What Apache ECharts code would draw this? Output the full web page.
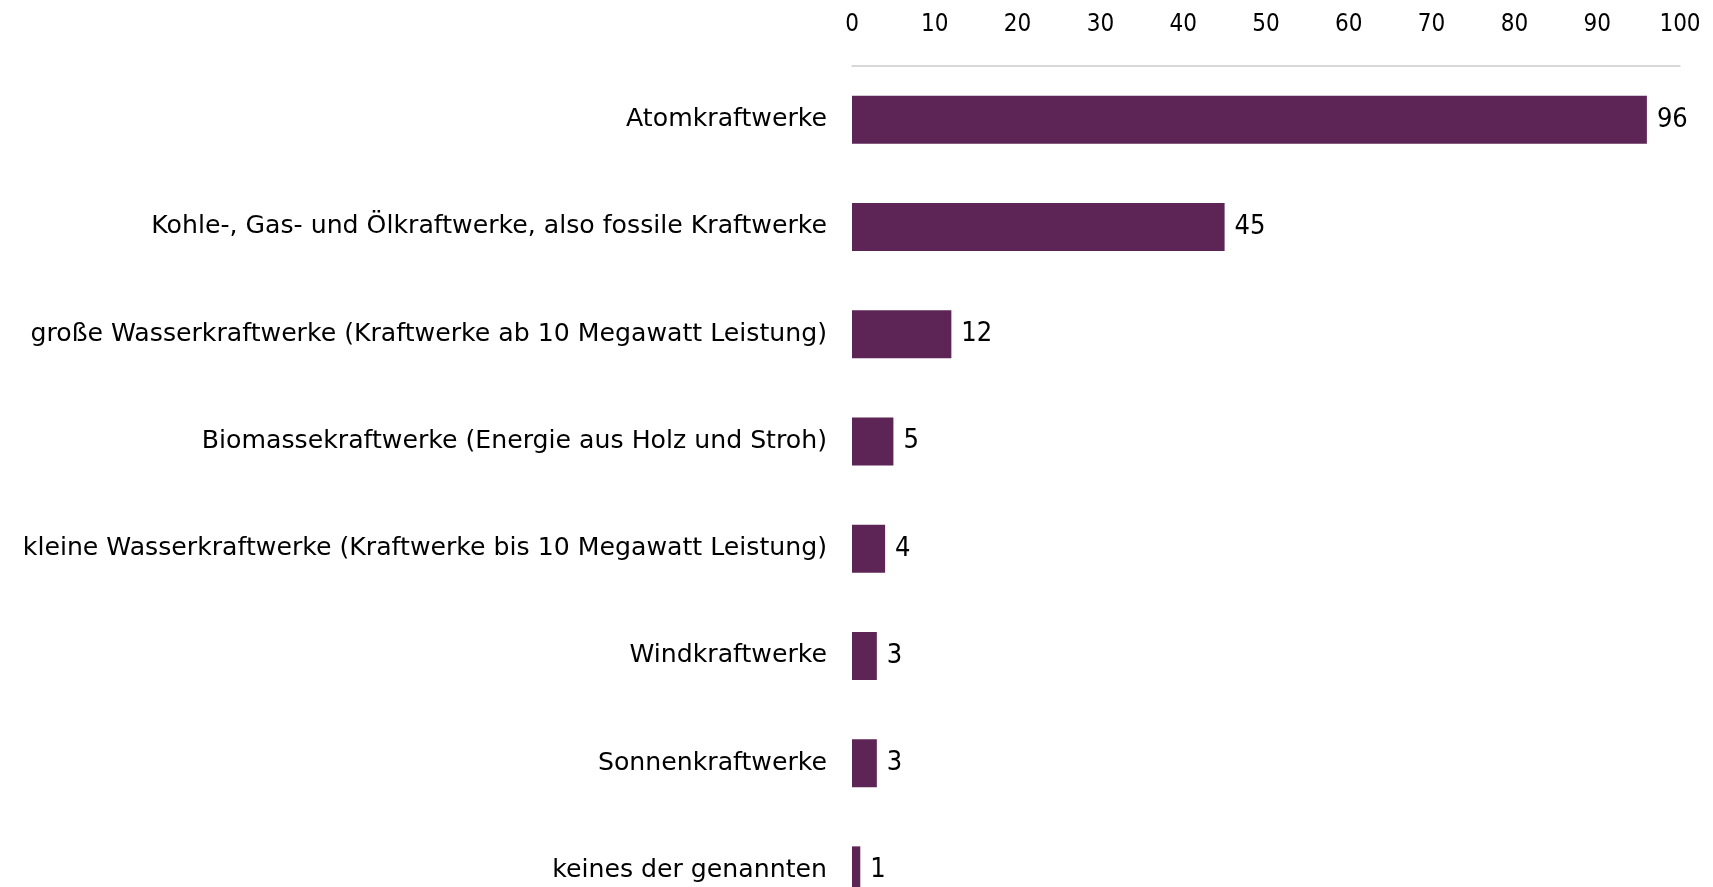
<!DOCTYPE html>
<html><head><meta charset="utf-8">
<script src="https://cdn.jsdelivr.net/npm/echarts@6/dist/echarts.min.js"></script>
<style>html,body{margin:0;padding:0;background:#fff}#c{width:1713px;height:887px}</style>
</head><body><div id="c"></div>
<script>
const categories = [
  "Atomkraftwerke",
  "Kohle-, Gas- und Ölkraftwerke, also fossile Kraftwerke",
  "große Wasserkraftwerke (Kraftwerke ab 10 Megawatt Leistung)",
  "Biomassekraftwerke (Energie aus Holz und Stroh)",
  "kleine Wasserkraftwerke (Kraftwerke bis 10 Megawatt Leistung)",
  "Windkraftwerke",
  "Sonnenkraftwerke",
  "keines der genannten"
];
const values = [96, 45, 12, 5, 4, 3, 3, 1];
const xTicks = [0, 10, 20, 30, 40, 50, 60, 70, 80, 90, 100];

const FONT = '"DejaVu Sans", sans-serif';
const FONT_C = '"DejaVu Sans Condensed", "DejaVu Sans", sans-serif';
const chart = echarts.init(document.getElementById('c'), null, {renderer: 'canvas'});
chart.setOption({
  animation: false,
  grid: {left: 852, right: 33, top: 66, height: 858, containLabel: false, outerBoundsMode: 'none'},
  xAxis: {
    type: 'value', position: 'top', min: xTicks[0], max: xTicks[xTicks.length - 1], interval: 10,
    axisLine: {show: true, lineStyle: {color: '#cccccc', width: 1.5}},
    axisTick: {show: false},
    splitLine: {show: false},
    axisLabel: {color: '#000', fontFamily: FONT_C, fontSize: 24, margin: 29}
  },
  yAxis: {
    type: 'category', inverse: true, data: categories,
    axisLine: {show: false}, axisTick: {show: false},
    axisLabel: {color: '#000', fontFamily: FONT, fontSize: 25.2, margin: 25}
  },
  series: [{
    type: 'bar', data: values, barWidth: 48,
    itemStyle: {color: '#5d2555'},
    label: {show: true, position: 'right', distance: 10, color: '#000', fontFamily: FONT_C, fontSize: 27}
  }]
});
</script></body></html>
